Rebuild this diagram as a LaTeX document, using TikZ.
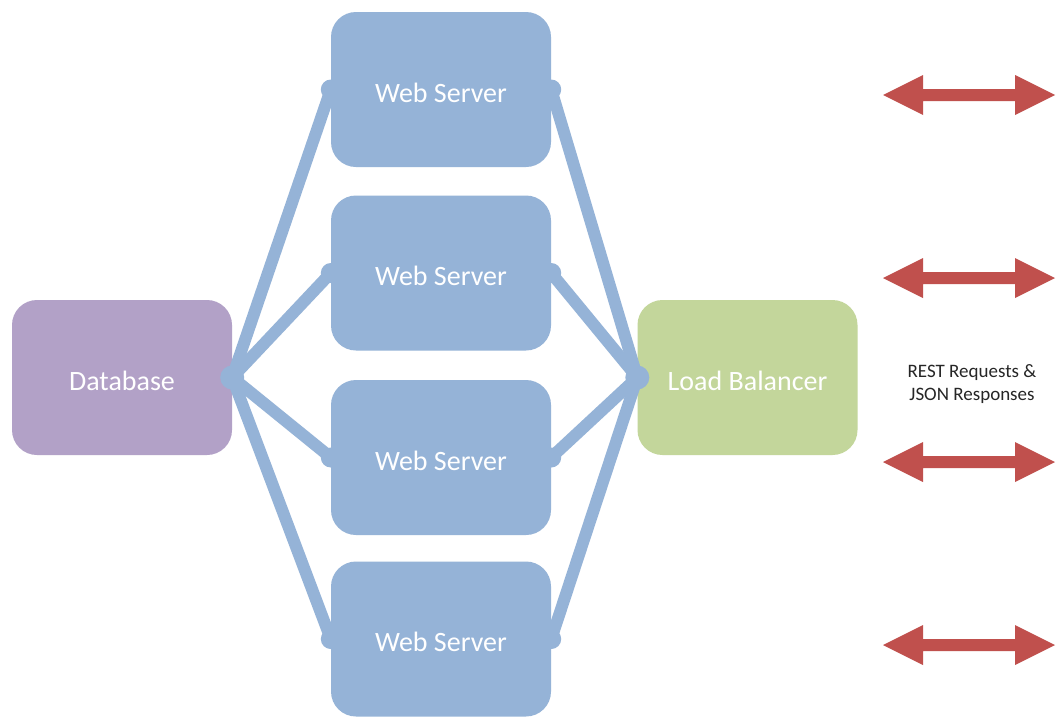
\documentclass[tikz,border=0pt]{standalone}
\usepackage{fontspec}
\setmainfont{Carlito}
\definecolor{srvblue}{HTML}{95B3D7}
\definecolor{dbpurple}{HTML}{B2A1C7}
\definecolor{lbgreen}{HTML}{C3D69B}
\definecolor{arrowred}{HTML}{C0504D}
\definecolor{labelgray}{HTML}{262626}
\tikzset{
  box/.style={rectangle, rounded corners=25pt, minimum width=220pt,
    minimum height=155pt, inner sep=0pt, text=white,
    text height=25pt, text depth=0pt,
    font=\fontsize{28}{32}\selectfont},
  server/.style={box, fill=srvblue},
  link/.style={draw=srvblue, line width=12pt},
  linkdot/.style={fill=srvblue},
  dblarrow/.pic={
    \fill[arrowred] (-86,0) -- (-46,20) -- (-46,6) -- (46,6) -- (46,20)
      -- (86,0) -- (46,-20) -- (46,-6) -- (-46,-6) -- (-46,-20) -- cycle;
  }
}
\begin{document}
\begin{tikzpicture}[x=1pt, y=-1pt]
\useasboundingbox[fill=white] (0,0) rectangle (1056,716);

% tiers
\node[box, fill=dbpurple] (db) at (122,377.5) {Database};
\node[server] (ws1) at (441,89.5)  {Web Server};
\node[server] (ws2) at (441,273)   {Web Server};
\node[server] (ws3) at (441,457.5) {Web Server};
\node[server] (ws4) at (441,639)   {Web Server};
\node[box, fill=lbgreen] (lb) at (747.5,377.5) {Load Balancer};

% links between database, web servers and load balancer
\foreach \s in {ws1,ws2,ws3,ws4}{
  \draw[link] (db.east) -- (\s.west);
  \draw[link] (\s.east) -- (lb.west);
  \fill[linkdot] (\s.west) circle (10);
  \fill[linkdot] (\s.east) circle (10);
}
\fill[linkdot] (db.east) circle (12);
\fill[linkdot] (lb.west) circle (12);

% client traffic
\pic at (969,95)  {dblarrow};
\pic at (969,278) {dblarrow};
\pic at (969,462) {dblarrow};
\pic at (969,645) {dblarrow};
\node[align=center, text=labelgray, font=\fontsize{19}{23}\selectfont]
  (rest) at (972,384) {REST Requests \&\\JSON Responses};
\end{tikzpicture}
\end{document}
